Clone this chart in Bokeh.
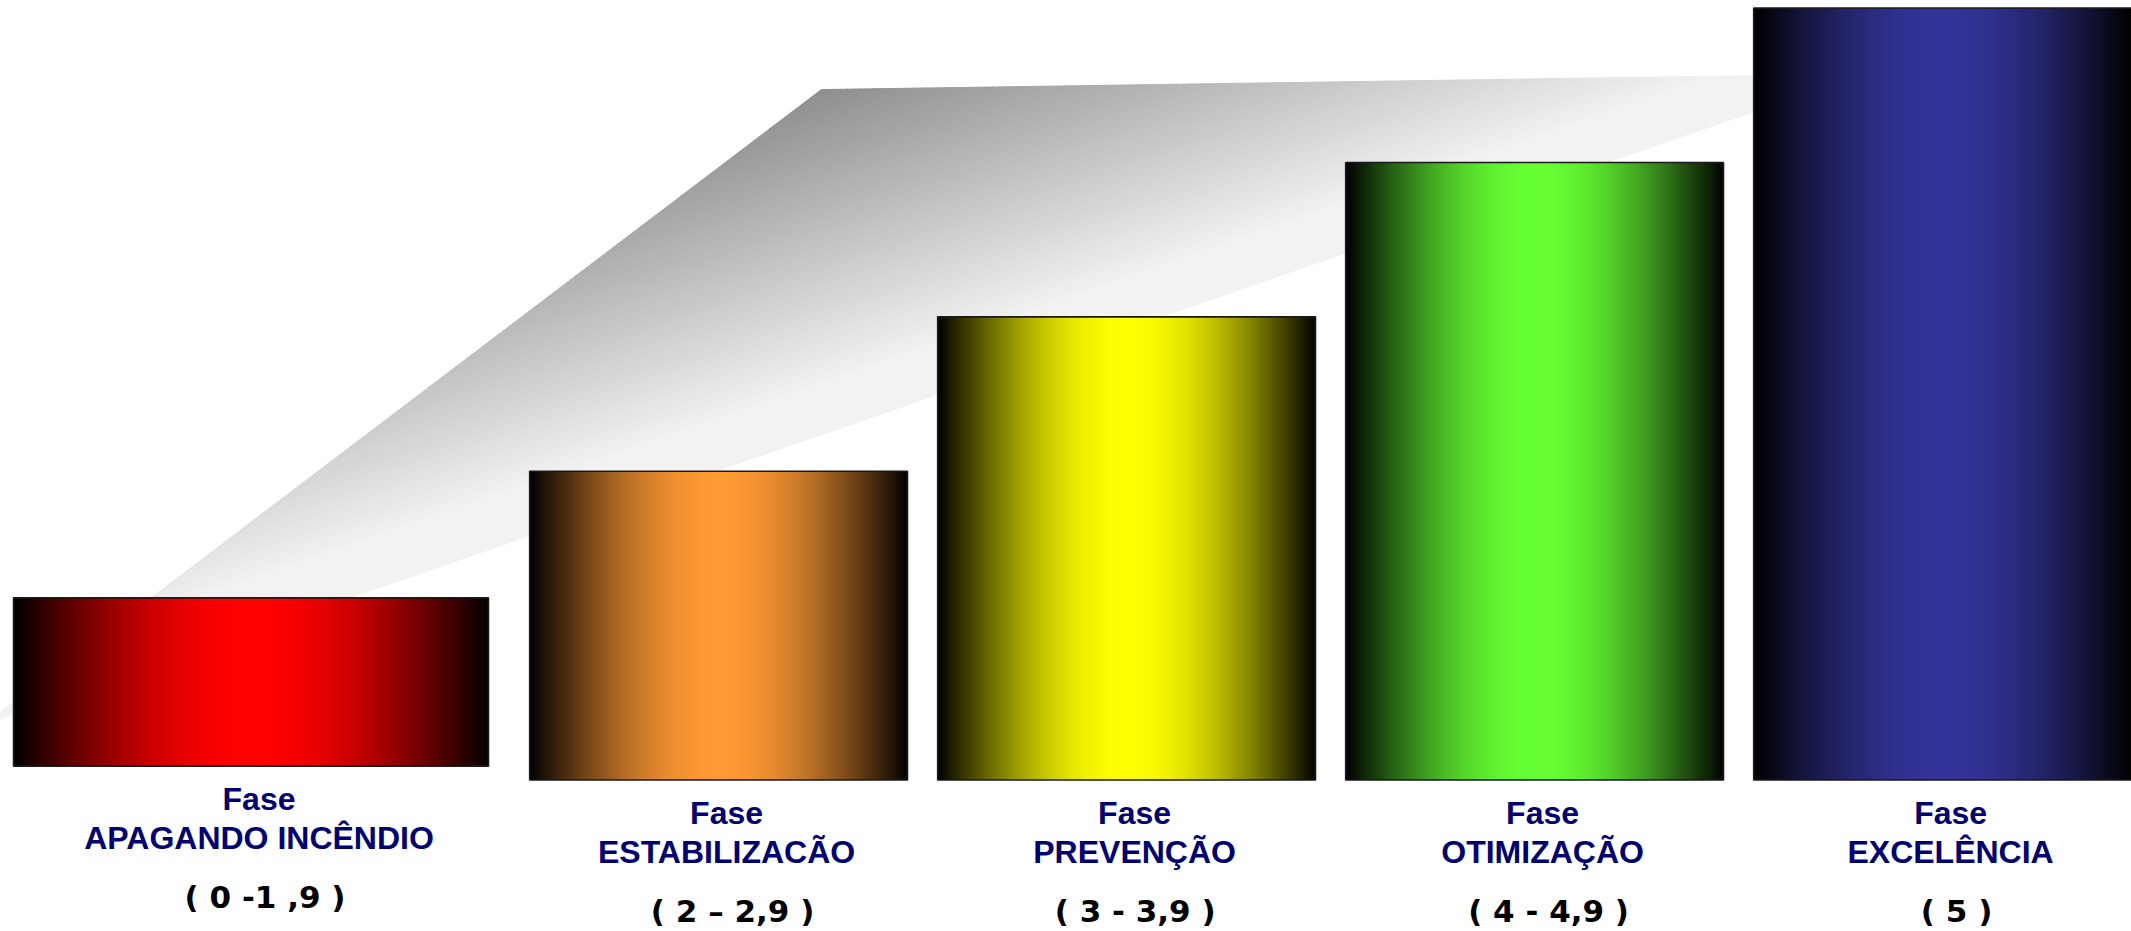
import numpy as np
from bokeh.plotting import figure
from bokeh.models import Range1d
from bokeh.core.properties import value
from bokeh.embed import file_html
from bokeh.resources import INLINE

# ---------------- data ----------------
phase_names = ["APAGANDO INCÊNDIO", "ESTABILIZACÃO", "PREVENÇÃO", "OTIMIZAÇÃO", "EXCELÊNCIA"]
phase_ranges = ["( 0 -1 ,9 )", "( 2 – 2,9 )", "(  3 - 3,9 )", "( 4 - 4,9 )", "( 5 )"]
bar_tops = [1.18, 2, 3, 4, 5]
bar_bases = [0.09, 0, 0, 0, 0]
bar_colors = [(255, 0, 0), (255, 153, 51), (255, 255, 0), (102, 255, 51), (51, 51, 153)]

# ---------------- layout ----------------
W, H = 2131, 931
p = figure(width=W, height=H, output_backend="svg", toolbar_location=None,
           x_range=Range1d(-0.760, 4.463), y_range=Range1d(-0.981, 5.049),
           x_axis_location=None, y_axis_location=None, min_border=0)
p.grid.visible = False
p.outline_line_color = None
p.background_fill_color = "white"
p.border_fill_color = "white"

centers = np.arange(len(bar_tops), dtype=float)
widths = np.full(len(bar_tops), 0.926)
centers[0] = -0.146   # first bar is shifted left and wider
widths[0] = 1.164

# ---------------- grey perspective shadow (gradient) ----------------
shadow = [(1.252, 4.472), (3.60, 4.565), (3.60, 4.387), (-0.80, 0.36)]
m = 0.909  # slope of the iso-colour lines in data units
svals = [v - m * u for u, v in shadow]
s_top, s_low = max(svals), min(svals)


def clip(poly, a, b, c):
    out = []
    n = len(poly)
    for k in range(n):
        P, Q = poly[k], poly[(k + 1) % n]
        fp = a * P[0] + b * P[1] + c
        fq = a * Q[0] + b * Q[1] + c
        if fp >= 0:
            out.append(P)
        if (fp >= 0) != (fq >= 0):
            t = fp / (fp - fq)
            out.append((P[0] + t * (Q[0] - P[0]), P[1] + t * (Q[1] - P[1])))
    return out


NB = 160
edges = np.linspace(s_low, s_top, NB + 1)
sxs, sys, scols = [], [], []
for k in range(NB):
    lo, hi = edges[k], edges[k + 1]
    poly = clip(shadow, -m, 1.0, -lo)
    poly = clip(poly, m, -1.0, hi)
    if len(poly) < 3:
        continue
    f = (s_top - 0.5 * (lo + hi)) / (s_top - s_low)
    g = min(f / 0.85, 1.0)
    c = int(round(143 + (242 - 143) * g))
    sxs.append([q[0] for q in poly])
    sys.append([q[1] for q in poly])
    scols.append("#%02x%02x%02x" % (c, c, c))
p.patches(sxs, sys, fill_color=scols, line_color=scols, line_width=1)

# ---------------- bars with horizontal cylinder gradient ----------------
NS = 400
tmid = (np.arange(NS) + 0.5) / NS
prof = np.sin(np.pi * tmid)
for i in range(len(bar_tops)):
    img = np.empty((1, NS), dtype=np.uint32)
    view = img.view(dtype=np.uint8).reshape((1, NS, 4))
    for ch in range(3):
        view[0, :, ch] = np.round(bar_colors[i][ch] * prof).astype(np.uint8)
    view[0, :, 3] = 255
    left = centers[i] - widths[i] / 2
    p.image_rgba(image=[img], x=left, y=bar_bases[i], dw=widths[i],
                 dh=bar_tops[i] - bar_bases[i])

p.vbar(x=centers, width=widths, top=bar_tops, bottom=bar_bases,
       fill_alpha=0, line_color="#1a1a1a", line_width=1.6)

# ---------------- labels ----------------
p.text(x=centers, y=bar_bases, text=["Fase"] * len(phase_names), x_offset=8, y_offset=33,
       text_font=value("Liberation Sans"), text_font_style="bold", text_font_size="32px",
       text_color="#00006e", text_align="center", text_baseline="alphabetic")
p.text(x=centers, y=bar_bases, text=phase_names, x_offset=8, y_offset=72,
       text_font=value("Liberation Sans"), text_font_style="bold", text_font_size="32px",
       text_color="#00006e", text_align="center", text_baseline="alphabetic")
p.text(x=centers, y=bar_bases, text=phase_ranges, x_offset=14, y_offset=131,
       text_font=value("DejaVu Sans"), text_font_style="bold", text_font_size="31px",
       text_color="black", text_align="center", text_baseline="alphabetic")

open("out.html", "w").write(file_html(p, INLINE))
